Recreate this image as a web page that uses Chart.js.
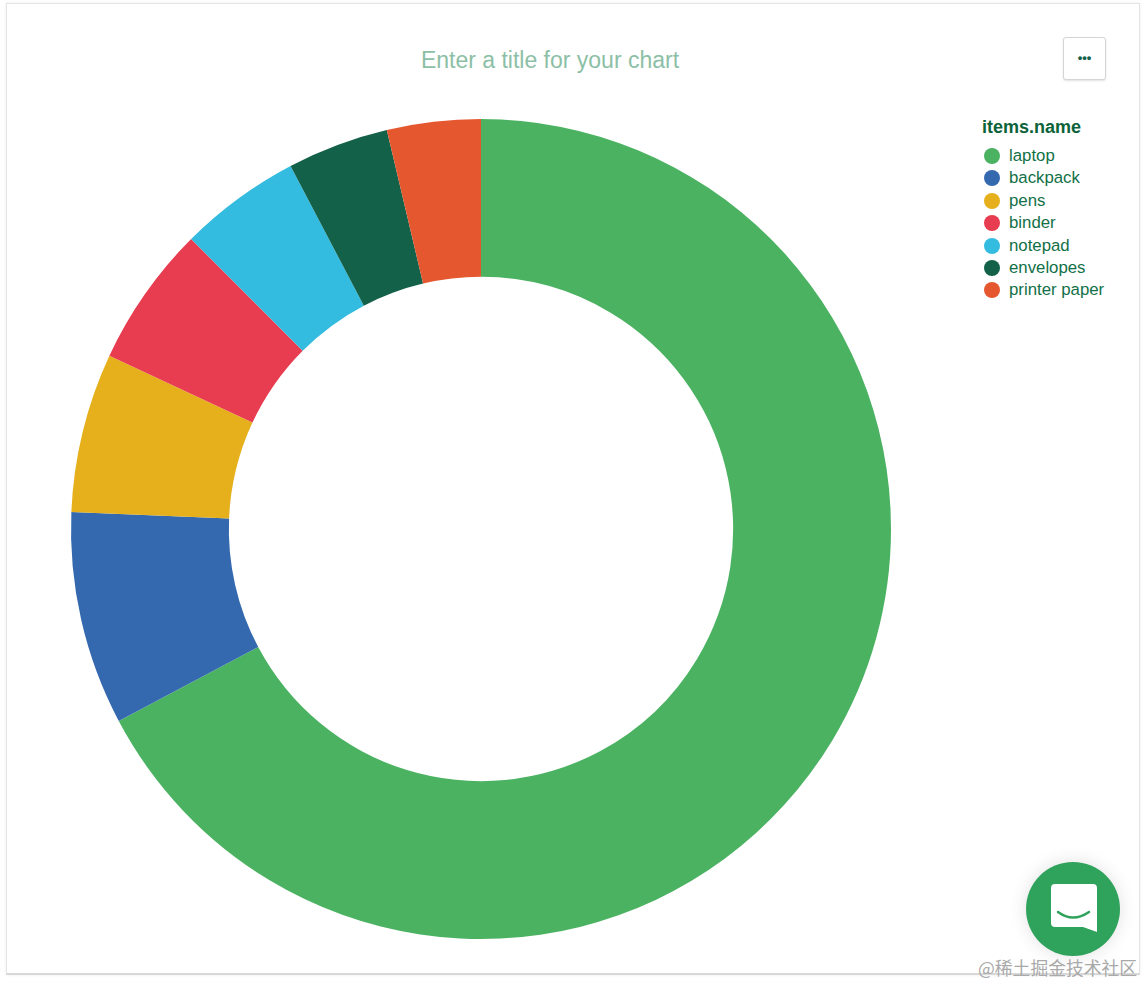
<!DOCTYPE html>
<html>
<head>
<meta charset="utf-8">
<title>Chart</title>
<script src="https://cdn.jsdelivr.net/npm/chart.js@4"></script>
<style>
	html, body { margin: 0; padding: 0; background: #fff; }
	body { width: 1144px; height: 984px; position: relative; overflow: hidden; font-family: "Liberation Sans", Arial, sans-serif; }
	.card { position: absolute; left: 6px; top: 3px; width: 1132px; height: 969px; background: #fff; border: 1px solid #e4e4e4; border-bottom: 2px solid #d8d8d8; box-shadow: 0 0 3px rgba(0,0,0,.08); }
	.title { position: absolute; left: 320px; top: 47px; width: 460px; text-align: center; font-size: 23px; line-height: 26px; color: #8cbfa6; }
	.menu { position: absolute; left: 1063px; top: 37px; width: 41px; height: 41px; border: 1px solid #d5d5d5; border-radius: 3px; box-shadow: 0 1px 2px rgba(0,0,0,.12); text-align: center; font-size: 13px; font-weight: bold; line-height: 40px; color: #136149; background: #fff; }
	.chart { position: absolute; left: 61px; top: 109px; width: 840px; height: 840px; }
	.legend { position: absolute; left: 982px; top: 117px; color: #127047; }
	.legend__name { font-size: 18px; font-weight: bold; line-height: 21px; color: #0c6238; margin-bottom: 7px; }
	.legend__item { position: relative; height: 22.4px; line-height: 22px; font-size: 16.8px; padding-left: 27px; white-space: nowrap; }
	.legend__dot { position: absolute; left: 2px; top: 3px; width: 16px; height: 16px; border-radius: 50%; }
	.chat { position: absolute; left: 1026px; top: 862px; width: 94px; height: 94px; border-radius: 50%; background: #2fa25c; box-shadow: 0 0 18px rgba(0,0,0,.12); }
	.chat svg { position: absolute; left: 0; top: 0; }
	.mark { position: absolute; left: 978px; top: 956px; font-family: "Noto Sans CJK SC", sans-serif; font-size: 17.8px; line-height: 22px; color: #a9a9a9; white-space: nowrap; }
</style>
</head>
<body>
<div class="card"></div>
<div class="title">Enter a title for your chart</div>
<div class="menu">•••</div>
<div class="chart"><canvas id="donut"></canvas></div>
<div class="legend" id="legend"></div>
<div class="chat">
	<svg width="94" height="94" viewBox="0 0 94 94">
		<path d="M29 22 H67 Q71 22 71 26 V70 L57 65 H29 Q25 65 25 61 V26 Q25 22 29 22 Z" fill="#fff"/>
		<path d="M32 50 Q47 61 63 50" fill="none" stroke="#2fa25c" stroke-width="2.5" stroke-linecap="round"/>
	</svg>
</div>
<div class="mark">@稀土掘金技术社区</div>

<script>
const legendTitle = "items.name";
const categories = ["laptop", "backpack", "pens", "binder", "notepad", "envelopes", "printer paper"];
const shares = [67.25, 8.42, 6.28, 5.56, 4.81, 4.0, 3.69];
const colors = ["#4bb262", "#3469af", "#e5b01c", "#e83c50", "#34bbe0", "#136149", "#e5572f"];

const legend = document.querySelector("#legend");
legend.innerHTML = `<div class="legend__name">${legendTitle}</div>`;
categories.map((name, i) => {
	const item = document.createElement("div");
	item.classList.add("legend__item");
	item.innerHTML = `<span class="legend__dot" style="background:${colors[i]}"></span>${name}`;
	legend.append(item);
});

new Chart(document.querySelector("#donut"), {
	type: "doughnut",
	data: {
		labels: categories,
		datasets: [{
			data: shares,
			backgroundColor: colors,
			borderWidth: 0,
		}]
	},
	options: {
		responsive: true,
		maintainAspectRatio: false,
		animation: false,
		cutout: "61.5%",
		layout: { padding: 10 },
		plugins: {
			legend: { display: false },
			tooltip: { enabled: false },
		}
	}
});
</script>
</body>
</html>
